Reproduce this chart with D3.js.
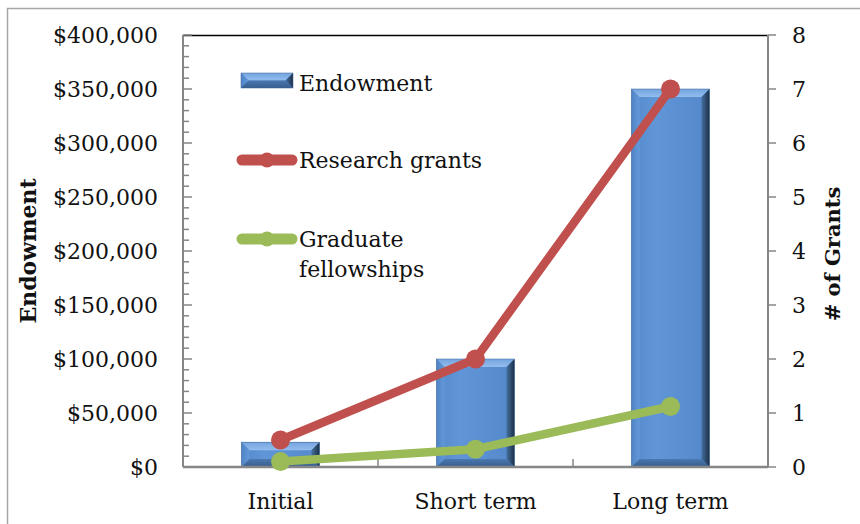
<!DOCTYPE html>
<html>
<head>
<meta charset="utf-8">
<script src="https://cdn.jsdelivr.net/npm/d3@7"></script>
<style>
  body { margin: 0; background: #fff; }
  text { font-family: "DejaVu Serif", serif; fill: #111; }
</style>
</head>
<body>
<div id="chart"></div>
<script>
var categories = ["Initial", "Short term", "Long term"];
var endowment = [23000, 100000, 350000];
var researchGrants = [0.5, 2, 7];
var gradFellowships = [0.1, 0.33, 1.12];
var leftTicks = [0, 50000, 100000, 150000, 200000, 250000, 300000, 350000, 400000];
var rightTicks = [0, 1, 2, 3, 4, 5, 6, 7, 8];

var W = 860, H = 524;
var margin = { top: 35, right: 92, bottom: 57, left: 183 },
  width = W - margin.left - margin.right,
  height = H - margin.top - margin.bottom;

var svg = d3.select("#chart").append("svg")
  .attr("width", W)
  .attr("height", H);

// outer chart border
svg.append("rect")
  .attr("x", 7.5).attr("y", 8.5)
  .attr("width", W + 20).attr("height", H + 20)
  .attr("fill", "none").attr("stroke", "#a6a6a6").attr("stroke-width", 1.5);

var defs = svg.append("defs");
function grad(id, x2, y2, stops) {
  var g = defs.append("linearGradient").attr("id", id)
    .attr("x1", 0).attr("y1", 0).attr("x2", x2).attr("y2", y2);
  stops.forEach(function (s) {
    g.append("stop").attr("offset", s[0]).attr("stop-color", s[1]);
  });
}
grad("face", 1, 0, [[0, "#5489cb"], [0.3, "#6096d8"], [1, "#5387c9"]]);
grad("topBev", 0, 1, [[0, "#74a4df"], [1, "#93bdee"]]);
grad("rightBev", 1, 0, [[0, "#44709f"], [1, "#1c2f47"]]);
grad("leftBev", 1, 0, [[0, "#4f84c4"], [1, "#6399da"]]);
grad("botBev", 0, 1, [[0, "#4a78b0"], [1, "#375d8c"]]);

var g = svg.append("g")
  .attr("transform", "translate(" + margin.left + "," + margin.top + ")");

var x = d3.scaleBand()
  .domain(categories)
  .range([0, width])
  .paddingInner(0.6)
  .paddingOuter(0.3);

var y = d3.scaleLinear()
  .domain([0, 400000])
  .range([height, 0]);

var y2 = d3.scaleLinear()
  .domain([0, 8])
  .range([height, 0]);

var money = function (d) { return "$" + d3.format(",")(d); };

// top border of plot area
g.append("line")
  .attr("x1", 0).attr("x2", width).attr("y1", 0.5).attr("y2", 0.5)
  .attr("stroke", "#000").attr("stroke-width", 1.5);

// bevelled bar
function bevelBar(sel, x0, y0, w, h) {
  var b = Math.min(8, h / 2, w / 2);
  sel.append("rect").attr("x", x0).attr("y", y0).attr("width", w).attr("height", h)
    .attr("fill", "url(#face)");
  var pts = function (a) { return a.map(function (p) { return p.join(","); }).join(" "); };
  sel.append("polygon").attr("fill", "url(#topBev)")
    .attr("points", pts([[x0, y0], [x0 + w, y0], [x0 + w - b, y0 + b], [x0 + b, y0 + b]]));
  sel.append("polygon").attr("fill", "url(#leftBev)")
    .attr("points", pts([[x0, y0], [x0 + b, y0 + b], [x0 + b, y0 + h - b], [x0, y0 + h]]));
  sel.append("polygon").attr("fill", "url(#rightBev)")
    .attr("points", pts([[x0 + w, y0], [x0 + w, y0 + h], [x0 + w - b, y0 + h - b], [x0 + w - b, y0 + b]]));
  sel.append("polygon").attr("fill", "url(#botBev)")
    .attr("points", pts([[x0, y0 + h], [x0 + w, y0 + h], [x0 + w - b, y0 + h - b], [x0 + b, y0 + h - b]]));
  sel.append("rect").attr("x", x0).attr("y", y0).attr("width", w).attr("height", h)
    .attr("fill", "none").attr("stroke", "#3f6697").attr("stroke-width", 0.5);
}

categories.forEach(function (c, i) {
  bevelBar(g.append("g").attr("class", "bar"),
    x(c), y(endowment[i]), x.bandwidth(), height - y(endowment[i]));
});

// left axis
var leftAxis = g.append("g").attr("class", "y axis");
leftAxis.append("line")
  .attr("x1", 0).attr("x2", 0).attr("y1", 0).attr("y2", height)
  .attr("stroke", "#868686").attr("stroke-width", 2);
leftAxis.selectAll(".minor")
  .data(d3.range(0, 400001, 10000))
  .enter().append("line")
  .attr("x1", 0).attr("x2", function (d) { return d % 50000 === 0 ? 9 : 6; })
  .attr("y1", function (d) { return y(d); }).attr("y2", function (d) { return y(d); })
  .attr("stroke", "#868686").attr("stroke-width", 1.5);
leftAxis.selectAll(".lbl")
  .data(leftTicks)
  .enter().append("text")
  .attr("x", -25)
  .attr("y", function (d) { return y(d); })
  .attr("dy", "0.35em")
  .attr("text-anchor", "end")
  .style("font-size", "22px")
  .text(money);

// right axis
var rightAxis = g.append("g").attr("class", "y2 axis")
  .attr("transform", "translate(" + width + ",0)");
rightAxis.append("line")
  .attr("x1", 0).attr("x2", 0).attr("y1", 0).attr("y2", height)
  .attr("stroke", "#868686").attr("stroke-width", 2);
rightAxis.selectAll(".tk")
  .data(rightTicks)
  .enter().append("line")
  .attr("x1", 0).attr("x2", 8)
  .attr("y1", function (d) { return y2(d); }).attr("y2", function (d) { return y2(d); })
  .attr("stroke", "#868686").attr("stroke-width", 1.5);
rightAxis.selectAll(".lbl")
  .data(rightTicks)
  .enter().append("text")
  .attr("x", 24)
  .attr("y", function (d) { return y2(d); })
  .attr("dy", "0.35em")
  .style("font-size", "22px")
  .text(function (d) { return d; });

// bottom axis
var bottomAxis = g.append("g").attr("class", "x axis")
  .attr("transform", "translate(0," + height + ")");
bottomAxis.append("line")
  .attr("x1", 0).attr("x2", width).attr("y1", 0).attr("y2", 0)
  .attr("stroke", "#868686").attr("stroke-width", 2.5);
var step = x.step();
bottomAxis.selectAll(".tk")
  .data(d3.range(categories.length + 1))
  .enter().append("line")
  .attr("x1", function (i) { return i * step; }).attr("x2", function (i) { return i * step; })
  .attr("y1", 0).attr("y2", -8)
  .attr("stroke", "#868686").attr("stroke-width", 1.5);
bottomAxis.selectAll(".lbl")
  .data(categories)
  .enter().append("text")
  .attr("x", function (d) { return x(d) + x.bandwidth() / 2; })
  .attr("y", 42)
  .attr("text-anchor", "middle")
  .style("font-size", "22px")
  .text(function (d) { return d; });

// axis titles
svg.append("text")
  .attr("transform", "translate(36," + (margin.top + height / 2) + ") rotate(-90)")
  .attr("text-anchor", "middle")
  .style("font-size", "22px").style("font-weight", "bold")
  .text("Endowment");
svg.append("text")
  .attr("transform", "translate(840," + (margin.top + height / 2 + 3) + ") rotate(-90)")
  .attr("text-anchor", "middle")
  .style("font-size", "21px").style("font-weight", "bold")
  .text("# of Grants");

// lines
var series = [
  { name: "Research grants", values: researchGrants, color: "#c0504d" },
  { name: "Graduate fellowships", values: gradFellowships, color: "#9bbb59" }
];
var line = d3.line()
  .x(function (d, i) { return x(categories[i]) + x.bandwidth() / 2; })
  .y(function (d) { return y2(d); });

series.forEach(function (s) {
  g.append("path")
    .datum(s.values)
    .attr("fill", "none")
    .attr("stroke", s.color)
    .attr("stroke-width", 8.5)
    .attr("stroke-linejoin", "round")
    .attr("d", line);
  g.selectAll(".dot-" + s.color.slice(1))
    .data(s.values)
    .enter().append("circle")
    .attr("cx", function (d, i) { return x(categories[i]) + x.bandwidth() / 2; })
    .attr("cy", function (d) { return y2(d); })
    .attr("r", 9.5)
    .attr("fill", s.color);
});

// legend
var legend = svg.append("g").attr("class", "legend");
bevelBar(legend.append("g"), 241, 73, 52, 15);
legend.append("text").attr("x", 299).attr("y", 91)
  .style("font-size", "22px").text("Endowment");

var legItems = [
  { lines: ["Research grants"], color: series[0].color, y: 160 },
  { lines: ["Graduate", "fellowships"], color: series[1].color, y: 239 }
];
legItems.forEach(function (it) {
  legend.append("line")
    .attr("x1", 242).attr("x2", 292).attr("y1", it.y).attr("y2", it.y)
    .attr("stroke", it.color).attr("stroke-width", 11).attr("stroke-linecap", "round");
  legend.append("circle").attr("cx", 267).attr("cy", it.y).attr("r", 7.5).attr("fill", it.color);
  it.lines.forEach(function (t, k) {
    legend.append("text").attr("x", 299).attr("y", it.y + 8 + k * 30)
      .style("font-size", "22px").text(t);
  });
});
</script>
</body>
</html>
